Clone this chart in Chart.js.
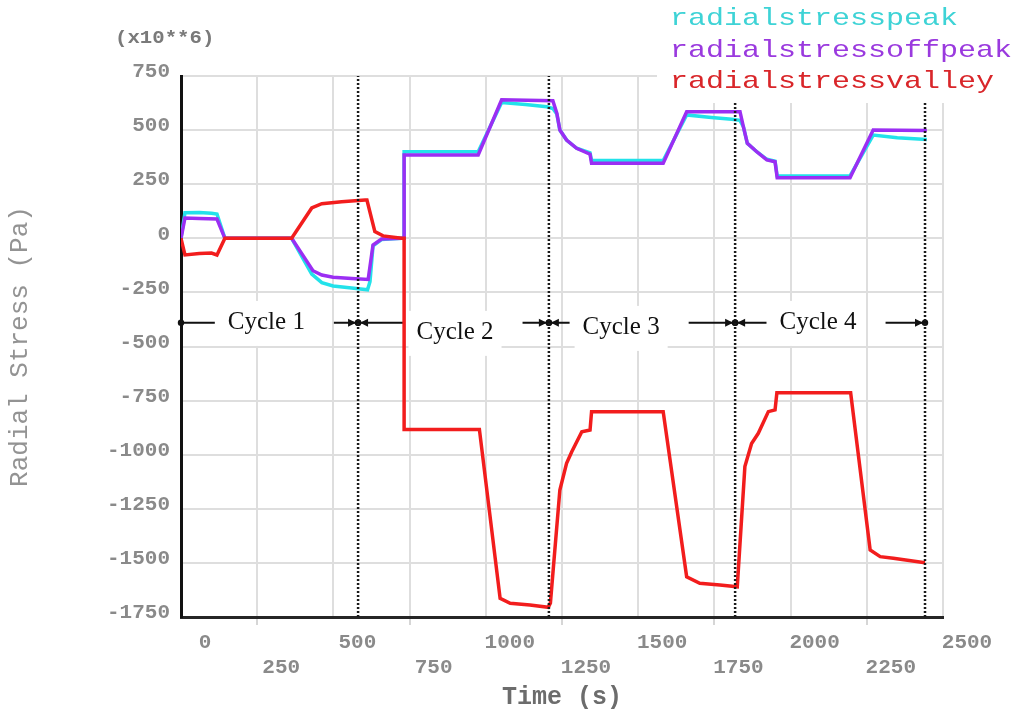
<!DOCTYPE html>
<html>
<head>
<meta charset="utf-8">
<script src="https://cdn.jsdelivr.net/npm/chart.js@4.4.0/dist/chart.umd.min.js"></script>
<style>
html,body{margin:0;padding:0;background:#fff;}
#c{display:block;}
</style>
</head>
<body>
<canvas id="c" width="1036" height="713"></canvas>
<script>
// ---- data ----
const seriesNames = ['radialstresspeak', 'radialstressoffpeak', 'radialstressvalley'];

const peakTime   = [0, 13, 60, 100, 118, 144, 363, 429, 462, 499, 560, 612, 620, 630, 658, 724, 732, 732, 975, 1052, 1130, 1200, 1220, 1233, 1243, 1265, 1298, 1342, 1347, 1582, 1659, 1740, 1807, 1834, 1845, 1858, 1889, 1922, 1949, 1956, 2195, 2271, 2350, 2447];
const peakStress = [0, 118, 119, 116, 112, 0, 0, -165, -205, -220, -230, -238, -200, -35, -6, 0, 0, 400, 400, 627, 618, 608, 600, 575, 500, 454, 416, 395, 359, 359, 570, 558, 550, 545, 516, 439, 400, 365, 356, 288, 288, 477, 465, 457];

const offpeakTime   = [0, 13, 60, 118, 144, 363, 433, 462, 499, 560, 614, 630, 658, 724, 732, 732, 975, 1052, 1220, 1233, 1243, 1265, 1298, 1342, 1347, 1582, 1659, 1834, 1845, 1858, 1889, 1922, 1949, 1956, 2195, 2271, 2447];
const offpeakStress = [0, 94, 92, 89, 0, 0, -150, -170, -180, -186, -190, -31, -3, 0, 0, 385, 385, 640, 636, 578, 500, 454, 416, 389, 347, 347, 585, 585, 516, 439, 400, 362, 354, 280, 280, 500, 498];

const valleyTime   = [0, 13, 60, 100, 118, 144, 363, 429, 462, 527, 604, 610, 636, 663, 724, 732, 732, 979, 1047, 1080, 1145, 1205, 1212, 1243, 1265, 1282, 1315, 1342, 1347, 1582, 1659, 1702, 1768, 1825, 1850, 1872, 1894, 1927, 1949, 1955, 2197, 2261, 2294, 2337, 2441];
const valleyStress = [0, -77, -70, -68, -77, 0, 0, 140, 160, 169, 177, 177, 31, 11, 0, 0, -883, -883, -1664, -1687, -1695, -1705, -1685, -1163, -1040, -986, -894, -886, -801, -801, -1564, -1594, -1602, -1610, -1055, -948, -901, -801, -793, -714, -714, -1440, -1471, -1479, -1499];

const xTickValues = [0, 250, 500, 750, 1000, 1250, 1500, 1750, 2000, 2250, 2500];
const xTickLabels = ['0', '250', '500', '750', '1000', '1250', '1500', '1750', '2000', '2250', '2500'];
const yTickValues = [-1750, -1500, -1250, -1000, -750, -500, -250, 0, 250, 500, 750];
const yTickLabels = ['-1750', '-1500', '-1250', '-1000', '-750', '-500', '-250', '0', '250', '500', '750'];

const cycleNames  = ['Cycle 1', 'Cycle 2', 'Cycle 3', 'Cycle 4'];
const cycleBounds = [0, 581, 1207, 1818, 2441];
const cycleArrowStress = -390;
const cycleLabelTime   = [280, 899, 1444, 2090];
const cycleLabelStress = [-391, -437, -414, -391];
const multiplierText = '(x10**6)';

// ---- styles ----
const lineColors   = ['#22e2ea', '#9b2ef3', '#f21d1d'];
const legendColors = ['#3ed3d6', '#9a3ade', '#d9262a'];

function pts(t, v) { return t.map((tt, i) => ({x: tt, y: v[i]})); }

const datasets = [
  {label: seriesNames[0], data: pts(peakTime, peakStress), borderColor: lineColors[0], borderWidth: 3.5, order: 3},
  {label: seriesNames[1], data: pts(offpeakTime, offpeakStress), borderColor: lineColors[1], borderWidth: 3.5, order: 2},
  {label: seriesNames[2], data: pts(valleyTime, valleyStress), borderColor: lineColors[2], borderWidth: 3.5, order: 1}
];
cycleBounds.slice(1).forEach(b => {
  datasets.push({label: 'boundary', data: [{x: b, y: -1750}, {x: b, y: 750}],
    borderColor: '#1a1a1a', borderWidth: 2.5, borderDash: [2, 2], order: 0});
});

const annotations = {
  id: 'annotations',
  beforeDatasetsDraw(chart) {
    const {ctx, scales: {x, y}} = chart;
    ctx.save();
    const ay = y.getPixelForValue(cycleArrowStress);
    ctx.font = '25px "Liberation Serif", "Times New Roman", serif';
    cycleNames.forEach((name, i) => {
      const x0 = x.getPixelForValue(cycleBounds[i]);
      const x1 = x.getPixelForValue(cycleBounds[i + 1]);
      const tx = x.getPixelForValue(cycleLabelTime[i]);
      const ty = y.getPixelForValue(cycleLabelStress[i]);
      const w = ctx.measureText(name).width;
      ctx.fillStyle = '#fff';
      ctx.fillRect(tx - w / 2 - 8, ty - 22, w + 16, 45);
      ctx.strokeStyle = '#111';
      ctx.lineWidth = 2;
      ctx.beginPath();
      ctx.moveTo(x0 + 3, ay); ctx.lineTo(tx - w / 2 - 13, ay);
      ctx.moveTo(tx + w / 2 + 29, ay); ctx.lineTo(x1 - 3, ay);
      ctx.stroke();
      ctx.fillStyle = '#111';
      // arrowheads
      ctx.beginPath();
      ctx.moveTo(x1 - 2, ay); ctx.lineTo(x1 - 10, ay - 4); ctx.lineTo(x1 - 10, ay + 4); ctx.closePath();
      ctx.fill();
      if (i > 0) {
        ctx.beginPath();
        ctx.moveTo(x0 + 2, ay); ctx.lineTo(x0 + 10, ay - 4); ctx.lineTo(x0 + 10, ay + 4); ctx.closePath();
        ctx.fill();
      }
      // dots
      [x0, x1].forEach(px => { ctx.beginPath(); ctx.arc(px, ay, 3.2, 0, Math.PI * 2); ctx.fill(); });
      ctx.textAlign = 'center';
      ctx.textBaseline = 'middle';
      ctx.fillText(name, tx, ty);
    });
    ctx.restore();
  },
  afterDatasetsDraw(chart) {
    const {ctx} = chart;
    ctx.save();
    // legend block
    ctx.fillStyle = '#fff';
    ctx.fillRect(657, 0, 379, 103);
    ctx.font = '24px "Liberation Mono", monospace';
    ctx.textAlign = 'left';
    ctx.textBaseline = 'alphabetic';
    seriesNames.forEach((n, i) => {
      ctx.save();
      ctx.translate(670, 25 + i * 31.5);
      ctx.scale(1.25, 1);
      ctx.fillStyle = legendColors[i];
      ctx.fillText(n, 0, 0);
      ctx.restore();
    });
    // multiplier
    ctx.save();
    ctx.translate(115, 43);
    ctx.scale(1.15, 1);
    ctx.font = 'bold 18px "Liberation Mono", monospace';
    ctx.fillStyle = '#7a7a7a';
    ctx.fillText(multiplierText, 0, 0);
    ctx.restore();
    ctx.restore();
  }
};

Chart.defaults.font.family = '"Liberation Mono", monospace';

new Chart(document.getElementById('c'), {
  type: 'line',
  data: {datasets},
  options: {
    responsive: false,
    animation: false,
    devicePixelRatio: 1,
    layout: {padding: {top: 76, right: 93, bottom: 0, left: 0}},
    elements: {point: {radius: 0}, line: {tension: 0, fill: false}},
    plugins: {legend: {display: false}, tooltip: {enabled: false}},
    scales: {
      x: {
        type: 'linear', min: 0, max: 2500,
        afterBuildTicks(s) { s.ticks = xTickValues.map(v => ({value: v})); },
        afterFit(s) { s.height = 96; },
        grid: {color: '#dedede', lineWidth: 2, tickLength: 8,
               tickColor: c => (c.index % 2 ? '#d6d6d6' : 'rgba(0,0,0,0)')},
        border: {color: '#262626', width: 3},
        ticks: {
          labelOffset: 24, padding: 6, maxRotation: 0, autoSkip: false,
          color: '#8a8a8a', font: {size: 21, weight: 'bold', lineHeight: 1.15},
          callback: (v, i) => (i % 2 ? ['', xTickLabels[i]] : xTickLabels[i])
        },
        title: {display: true, text: 'Time (s)', color: '#6c6c6c',
                font: {size: 25, weight: 'bold'}, padding: {top: 0, bottom: 0}}
      },
      y: {
        min: -1750, max: 750,
        afterBuildTicks(s) { s.ticks = yTickValues.map(v => ({value: v})); },
        afterFit(s) { s.width = 181; },
        grid: {color: '#dedede', lineWidth: 2, drawTicks: false},
        border: {color: '#111', width: 3},
        ticks: {
          padding: 11, labelOffset: -4, color: '#8a8a8a',
          font: {size: 21, weight: 'bold'},
          callback: (v, i) => yTickLabels[i]
        },
        title: {display: true, text: 'Radial Stress (Pa)', color: '#939393',
                font: {size: 26}, padding: {top: 5, bottom: 0}}
      }
    }
  },
  plugins: [annotations]
});
</script>
</body>
</html>
